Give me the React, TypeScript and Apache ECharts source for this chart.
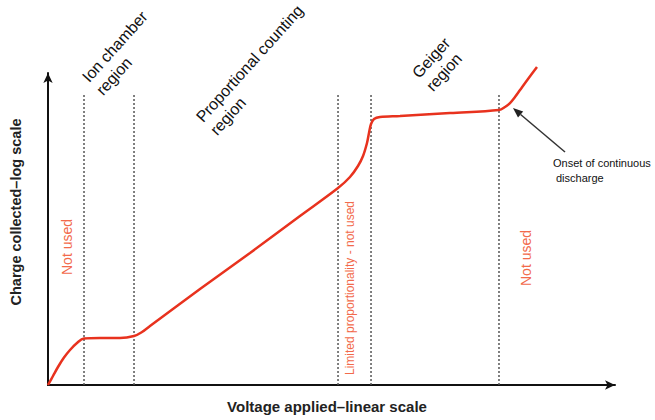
import React, { useEffect, useRef } from "react";
import * as echarts from "echarts";

// Voltage (x, linear 0-100) and collected charge (y, relative log-scale 0-100)
const curveX = [0, 0.88, 1.76, 2.82, 3.88, 5.11, 6.35, 9.17, 12.7, 15.17, 16.58, 17.99, 26.81, 35.63, 44.44, 51.15, 53.26, 54.67, 55.56, 56.26, 56.61, 56.97, 57.5, 58.55, 62.08, 70.9, 79.54, 80.6, 81.48, 82.36, 83.25, 84.66, 86.24];
const curveY = [0, 2.88, 5.77, 8.81, 11.22, 13.46, 14.9, 15.06, 15.06, 15.71, 16.99, 18.91, 30.77, 42.31, 54.17, 63.14, 66.67, 70.19, 73.4, 77.56, 80.77, 83.65, 85.26, 85.9, 86.22, 87.18, 88.14, 89.1, 90.38, 92.31, 94.55, 98.08, 101.92];

const boundaryX = [6.35, 15.17, 51.15, 56.97, 79.54];
const boundaryTop = 93.3;

const regionLabels = [
  ["Ion chamber", "region"],
  ["Proportional counting", "region"],
  ["Geiger", "region"],
];
const unusedLabels = ["Not used", "Limited proportionality - not used", "Not used"];
const annotationLines = ["Onset of continuous", "discharge"];
const xTitle = "Voltage applied\u2013linear scale";
const yTitle = "Charge collected\u2013log scale";

const FONT = "'Liberation Sans', Arial, sans-serif";

export default function App() {
  const ref = useRef<HTMLDivElement>(null);
  useEffect(() => {
    if (!ref.current) return;
    const chart = echarts.init(ref.current, undefined, { renderer: "svg" });
    const rot = (48 * Math.PI) / 180;
    const regionAnchors = [
      [[91, 85], [105, 98]],
      [[205, 125], [219, 138]],
      [[421, 81], [435, 94]],
    ];
    const graphics: any[] = [];
    regionLabels.forEach((lines, i) => {
      lines.forEach((t, j) => {
        graphics.push({
          type: "text",
          x: regionAnchors[i][j][0],
          y: regionAnchors[i][j][1],
          rotation: rot,
          silent: true,
          style: {
            text: t,
            fill: "#111",
            font: `16px ${FONT}`,
            textAlign: "left",
            textVerticalAlign: "bottom",
          },
        });
      });
    });
    const unusedPos = [
      [67, 247, 14],
      [350, 288, 12],
      [526, 258, 14],
    ];
    unusedLabels.forEach((t, i) => {
      graphics.push({
        type: "text",
        x: unusedPos[i][0],
        y: unusedPos[i][1],
        rotation: Math.PI / 2,
        silent: true,
        style: {
          text: t,
          fill: "#f26a4b",
          font: `${unusedPos[i][2]}px ${FONT}`,
          textAlign: "center",
          textVerticalAlign: "middle",
        },
      });
    });
    const annPos = [
      [553, 163],
      [556, 178],
    ];
    annotationLines.forEach((t, i) => {
      graphics.push({
        type: "text",
        x: annPos[i][0],
        y: annPos[i][1],
        silent: true,
        style: {
          text: t,
          fill: "#111",
          font: `11px ${FONT}`,
          textAlign: "left",
          textVerticalAlign: "middle",
        },
      });
    });
    // arrow
    graphics.push({
      type: "line",
      silent: true,
      shape: { x1: 565, y1: 152, x2: 520.6, y2: 114.5 },
      style: { stroke: "#333", lineWidth: 1.5 },
    });
    graphics.push({
      type: "polygon",
      silent: true,
      shape: { points: [[513, 108], [523.2, 111.4], [518.0, 117.6]] },
      style: { fill: "#222" },
    });
    graphics.push({
      type: "text",
      x: 327,
      y: 406,
      silent: true,
      style: {
        text: xTitle,
        fill: "#222",
        font: `bold 15px ${FONT}`,
        textAlign: "center",
        textVerticalAlign: "middle",
      },
    });
    graphics.push({
      type: "text",
      x: 16,
      y: 212,
      rotation: Math.PI / 2,
      silent: true,
      style: {
        text: yTitle,
        fill: "#222",
        font: `bold 14.5px ${FONT}`,
        textAlign: "center",
        textVerticalAlign: "middle",
      },
    });

    const axisCommon = {
      type: "value",
      min: 0,
      max: 100,
      axisLabel: { show: false },
      axisTick: { show: false },
      splitLine: { show: false },
      axisLine: {
        show: true,
        onZero: false,
        symbol: ["none", "arrow"],
        symbolSize: [7, 10],
        lineStyle: { color: "#111", width: 2 },
      },
    };

    chart.setOption({
      animation: false,
      backgroundColor: "#fff",
      grid: { left: 48, right: 40, top: 73, bottom: 35, containLabel: false },
      xAxis: { ...axisCommon },
      yAxis: { ...axisCommon },
      series: [
        ...boundaryX.map((x) => ({
          type: "line",
          data: [
            [x, 0],
            [x, boundaryTop],
          ],
          symbol: "none",
          silent: true,
          lineStyle: { color: "#555", width: 1.5, type: [2, 2] },
        })),
        {
          type: "line",
          data: curveX.map((x, i) => [x, curveY[i]]),
          symbol: "none",
          smooth: 0.35,
          clip: false,
          silent: true,
          lineStyle: { color: "#e8321e", width: 2.5 },
        },
      ],
      graphic: graphics,
    });
    return () => chart.dispose();
  }, []);
  return (
    <div
      ref={ref}
      style={{ position: "absolute", left: 0, top: 0, width: 655, height: 420 }}
    />
  );
}
